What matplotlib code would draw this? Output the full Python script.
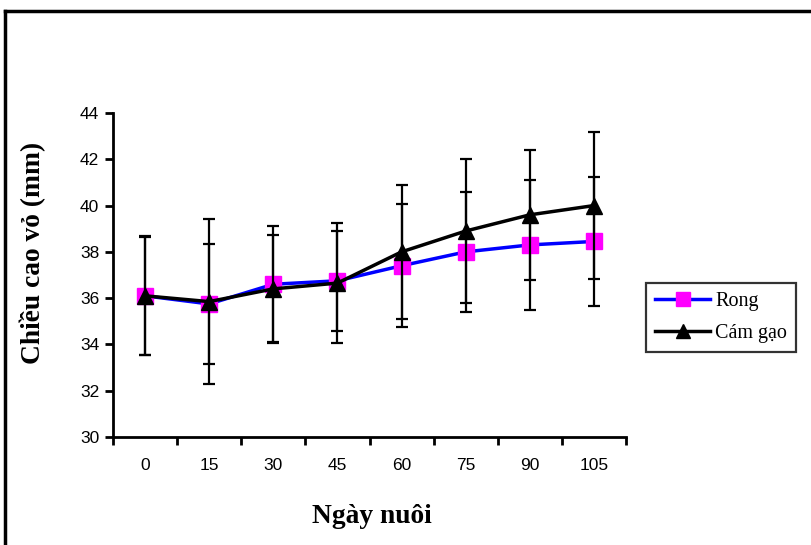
import matplotlib
matplotlib.use("Agg")
import matplotlib.pyplot as plt
from matplotlib.lines import Line2D
import numpy as np

days = ["0", "15", "30", "45", "60", "75", "90", "105"]
rong = [36.1, 35.75, 36.6, 36.75, 37.4, 38.0, 38.3, 38.45]
rong_err = [2.55, 2.6, 2.5, 2.15, 2.65, 2.6, 2.8, 2.8]
cam = [36.1, 35.85, 36.4, 36.65, 38.0, 38.9, 39.6, 40.0]
cam_err = [2.57, 3.55, 2.35, 2.6, 2.9, 3.1, 2.8, 3.17]

W, H = 811, 545
fig = plt.figure(figsize=(W / 100, H / 100), dpi=100)
ax = fig.add_axes([113 / W, 1 - 437 / H, (626 - 113) / W, (437 - 113) / H])

x = np.arange(len(days))
rong_style = dict(color="#0000FF", lw=2.5, marker="s", ms=11,
                  mfc="#FF00FF", mec="#FF00FF")
cam_style = dict(color="black", lw=2.5, marker="^", ms=11,
                 mfc="black", mec="black")
ax.errorbar(x, rong, yerr=rong_err, ecolor="black", elinewidth=1.6,
            capsize=4.5, capthick=1.6, zorder=3, **rong_style)
ax.errorbar(x, cam, yerr=cam_err, ecolor="black", elinewidth=1.6,
            capsize=4.5, capthick=1.6, zorder=4, **cam_style)

ax.set_xlim(-0.5, len(days) - 0.5)
ax.set_ylim(30, 44)
ax.set_yticks(np.arange(30, 45, 2))
ax.set_xticks(np.arange(-0.5, len(days), 1.0))
ax.set_xticklabels([])
ax.set_xticks(x, minor=True)
ax.set_xticklabels(days, minor=True)

for s in ["top", "right"]:
    ax.spines[s].set_visible(False)
for s in ["left", "bottom"]:
    ax.spines[s].set_linewidth(2)

ax.tick_params(axis="both", which="major", direction="out", length=6, width=2,
               labelsize=12.5, pad=4)
ax.tick_params(axis="x", which="minor", length=0, pad=15, labelsize=12.5)
for lab in ax.get_yticklabels() + ax.get_xticklabels(minor=True):
    lab.set_fontfamily("Liberation Sans")

ax.set_ylabel("Chiều cao vỏ (mm)", fontfamily="Liberation Serif",
              fontweight="bold", fontsize=19.8)
ax.yaxis.set_label_coords(-0.131, 0.568)
ax.set_xlabel("Ngày nuôi", fontfamily="Liberation Serif",
              fontweight="bold", fontsize=19.8)
ax.xaxis.set_label_coords(0.505, -0.208)

handles = [Line2D([], [], **rong_style), Line2D([], [], **cam_style)]
leg = ax.legend(handles, ["Rong", "Cám gạo"], loc="upper left",
                bbox_to_anchor=(646 / W, 1 - 283 / H),
                bbox_transform=fig.transFigure, borderaxespad=0,
                prop={"family": "Liberation Serif", "size": 14.5},
                frameon=True, fancybox=False, edgecolor="black",
                handlelength=2.75, handletextpad=0.25, labelspacing=0.62,
                borderpad=0.45, markerscale=0.95)
leg.get_frame().set_linewidth(1.6)

# outer frame (left and top edges visible)
fig.add_artist(Line2D([5 / W, 5 / W], [0, 1 - 11 / H], color="black", lw=2.5,
                      transform=fig.transFigure))
fig.add_artist(Line2D([5 / W, 1], [1 - 11 / H, 1 - 11 / H], color="black", lw=2.5,
                      transform=fig.transFigure))

fig.savefig("out.png", dpi=100)
